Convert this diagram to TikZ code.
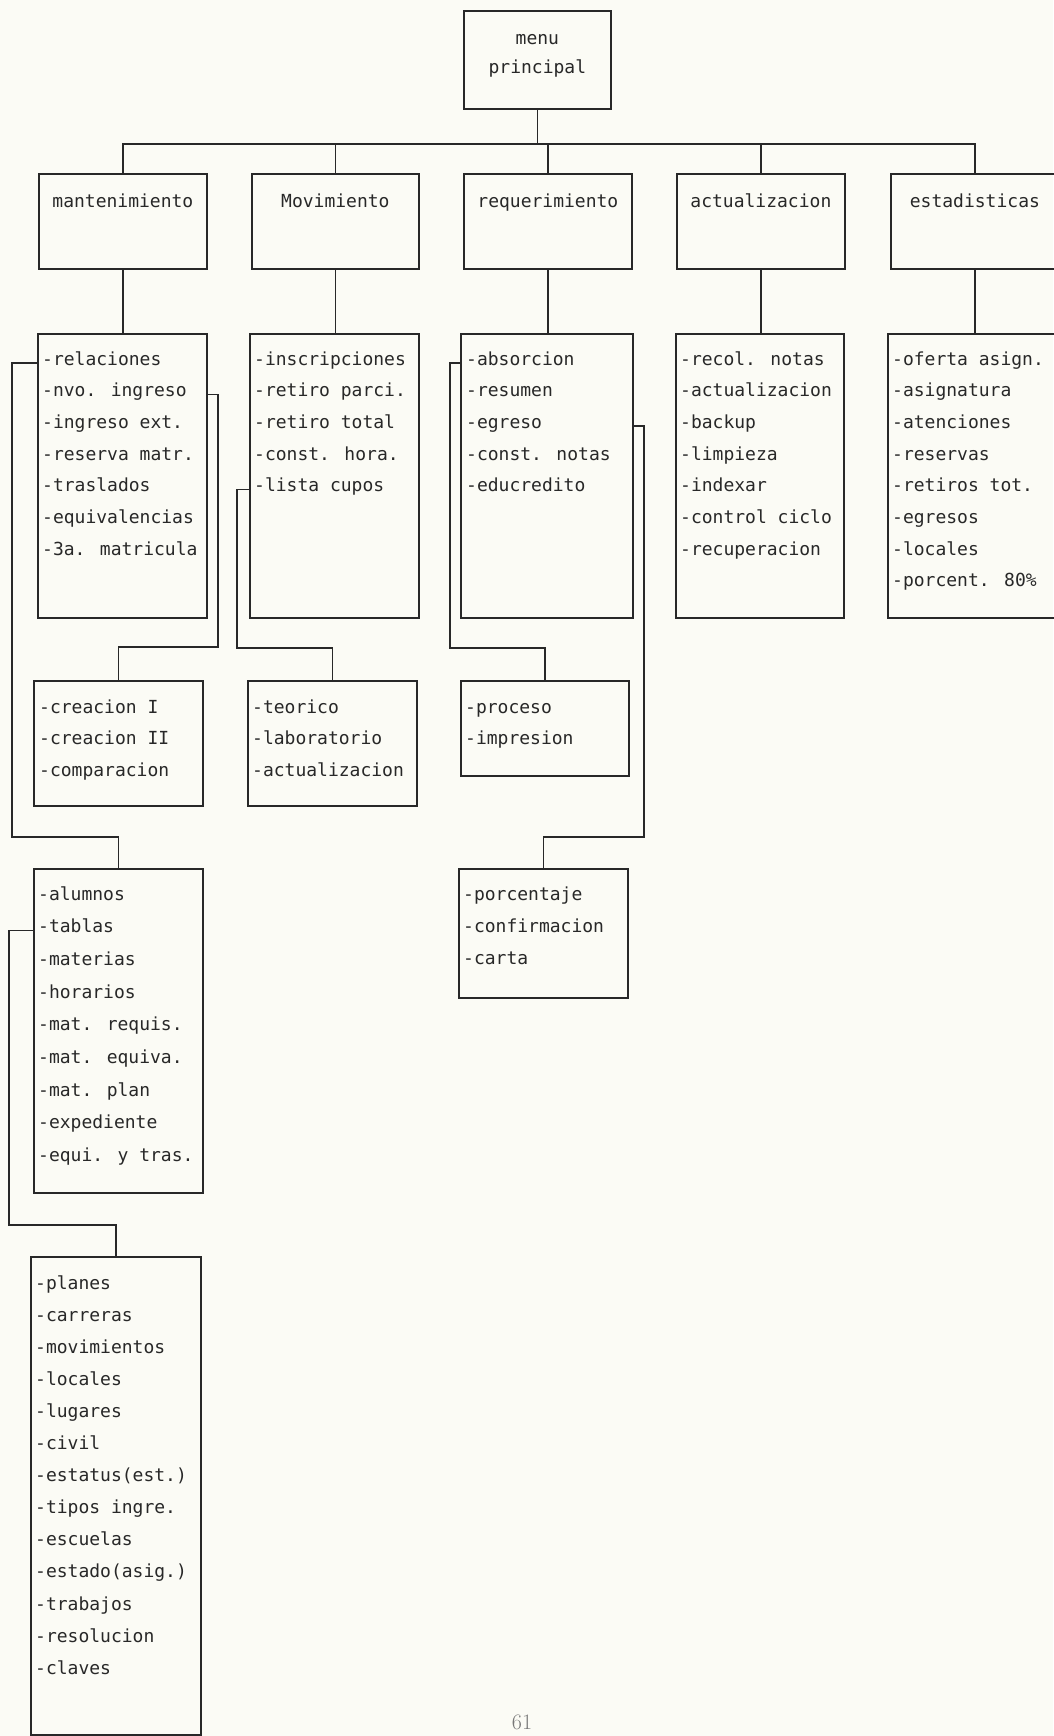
\documentclass[tikz,border=0pt]{standalone}
\usepackage{fontspec}
\newfontfamily\dotfont{DejaVu Sans Mono}
\usetikzlibrary{positioning}
\definecolor{paper}{RGB}{251,251,245}
\definecolor{ink}{RGB}{40,40,40}
\definecolor{pencil}{RGB}{120,120,120}

\begin{document}
\begin{tikzpicture}[x=1pt,y=-1pt,
  box/.style={draw=ink,line width=1.8pt,rectangle,anchor=north west,inner sep=0pt},
  head/.style={anchor=base,inner sep=0pt,text=ink,font=\dotfont\fontsize{18}{20}\selectfont},
  item/.style={anchor=base west,inner sep=0pt,text=ink,font=\dotfont\fontsize{18}{20}\selectfont},
  link/.style={draw=ink,line width=1.6pt}]
\useasboundingbox (0,0) rectangle (1053,1736);
\fill[paper] (0,0) rectangle (1053,1736);
% main menu
\node[box,minimum width=147pt,minimum height=98pt] (menu) at (463,10) {};
\node[head] (menu-t1) at ([shift={(0,35)}]menu.north) {menu};
\node[head] (menu-t2) at ([shift={(0,64)}]menu.north) {principal};
% first level
\node[box,minimum width=168pt,minimum height=95pt] (mant) at (38,173) {};
\node[box,minimum width=167pt,minimum height=95pt] (mov) at (251,173) {};
\node[box,minimum width=168pt,minimum height=95pt] (req) at (463,173) {};
\node[box,minimum width=168pt,minimum height=95pt] (act) at (676,173) {};
\node[box,minimum width=168pt,minimum height=95pt] (est) at (890,173) {};
\node[head] (mant-t) at ([shift={(0,35)}]mant.north) {mantenimiento};
\node[head] (mov-t) at ([shift={(0,35)}]mov.north) {Movimiento};
\node[head] (req-t) at ([shift={(0,35)}]req.north) {requerimiento};
\node[head] (act-t) at ([shift={(0,35)}]act.north) {actualizacion};
\node[head] (est-t) at ([shift={(0,35)}]est.north) {estadisticas};
% bus
\draw[link] (menu.south) -- ++(0,34) coordinate (bus);
\draw[link] (mant.north) |- (bus) -| (est.north);
\foreach \b in {mov,req,act}
  \draw[link] (\b.north) -- (\b.north |- bus);
% option lists
\node[box,minimum width=169pt,minimum height=284pt] (mant-l) at (37,333) {};
\node[box,minimum width=169pt,minimum height=284pt] (mov-l) at (249,333) {};
\node[box,minimum width=172pt,minimum height=284pt] (req-l) at (460,333) {};
\node[box,minimum width=168pt,minimum height=284pt] (act-l) at (675,333) {};
\node[box,minimum width=168pt,minimum height=284pt] (est-l) at (887,333) {};
\foreach \b in {mant,mov,req,act,est}
  \draw[link] (\b.south) -- (\b.south |- \b-l.north);
\foreach \t [count=\i] in {-relaciones,-nvo. ingreso,-ingreso ext.,-reserva matr.,-traslados,-equivalencias,-3a. matricula}
  \node[item] (mant-i\i) at ([shift={(5,{32+31.7*(\i-1)})}]mant-l.north west) {\t};
\foreach \t [count=\i] in {-inscripciones,-retiro parci.,-retiro total,-const. hora.,-lista cupos}
  \node[item] (mov-i\i) at ([shift={(5,{32+31.7*(\i-1)})}]mov-l.north west) {\t};
\foreach \t [count=\i] in {-absorcion,-resumen,-egreso,-const. notas,-educredito}
  \node[item] (req-i\i) at ([shift={(6,{32+31.7*(\i-1)})}]req-l.north west) {\t};
\foreach \t [count=\i] in {-recol. notas,-actualizacion,-backup,-limpieza,-indexar,-control ciclo,-recuperacion}
  \node[item] (act-i\i) at ([shift={(5,{32+31.7*(\i-1)})}]act-l.north west) {\t};
\foreach \t [count=\i] in {-oferta asign.,-asignatura,-atenciones,-reservas,-retiros tot.,-egresos,-locales,-porcent. 80\%}
  \node[item] (est-i\i) at ([shift={(5,{32+31.7*(\i-1)})}]est-l.north west) {\t};
% sub lists
\node[box,minimum width=169pt,minimum height=125pt] (creac) at (33,680) {};
\node[box,minimum width=169pt,minimum height=125pt] (teor) at (247,680) {};
\node[box,minimum width=168pt,minimum height=95pt] (proc) at (460,680) {};
\node[box,minimum width=169pt,minimum height=324pt] (alum) at (33,868) {};
\node[box,minimum width=169pt,minimum height=129pt] (porc) at (458,868) {};
\node[box,minimum width=170pt,minimum height=478pt] (plan) at (30,1256) {};
\foreach \t [count=\i] in {-creacion I,-creacion II,-comparacion}
  \node[item] (creac-i\i) at ([shift={(6,{33+31.7*(\i-1)})}]creac.north west) {\t};
\foreach \t [count=\i] in {-teorico,-laboratorio,-actualizacion}
  \node[item] (teor-i\i) at ([shift={(5,{33+31.7*(\i-1)})}]teor.north west) {\t};
\foreach \t [count=\i] in {-proceso,-impresion}
  \node[item] (proc-i\i) at ([shift={(5,{33+31.7*(\i-1)})}]proc.north west) {\t};
\foreach \t [count=\i] in {-alumnos,-tablas,-materias,-horarios,-mat. requis.,-mat. equiva.,-mat. plan,-expediente,-equi. y tras.}
  \node[item] (alum-i\i) at ([shift={(5,{32+32.7*(\i-1)})}]alum.north west) {\t};
\foreach \t [count=\i] in {-porcentaje,-confirmacion,-carta}
  \node[item] (porc-i\i) at ([shift={(5,{32+32*(\i-1)})}]porc.north west) {\t};
\foreach \t [count=\i] in {-planes,-carreras,-movimientos,-locales,-lugares,-civil,-estatus(est.),-tipos ingre.,-escuelas,-estado(asig.),-trabajos,-resolucion,-claves}
  \node[item] (plan-i\i) at ([shift={(5,{33+32.1*(\i-1)})}]plan.north west) {\t};
% links between lists
\draw[link] (mant-i1.mid -| mant-l.west) -- ++(-25,0) |- ([shift={(0,-31)}]alum.north) -- (alum.north);
\draw[link] (mant-i2.mid -| mant-l.east) -- ++(10,0) |- ([shift={(0,-33)}]creac.north) -- (creac.north);
\draw[link] (mov-i5.mid -| mov-l.west) -- ++(-12,0) |- ([shift={(0,-32)}]teor.north) -- (teor.north);
\draw[link] (req-i1.mid -| req-l.west) -- ++(-10,0) |- ([shift={(0,-32)}]proc.north) -- (proc.north);
\draw[link] (req-i3.mid -| req-l.east) -- ++(10,0) |- ([shift={(0,-31)}]porc.north) -- (porc.north);
\draw[link] (alum-i2.mid -| alum.west) -- ++(-24,0) |- ([shift={(0,-31)}]plan.north) -- (plan.north);
% page number
\node[anchor=base,inner sep=0pt,text=pencil,font=\fontsize{22}{22}\selectfont] (page) at (522,1729) {61};
\end{tikzpicture}
\end{document}
